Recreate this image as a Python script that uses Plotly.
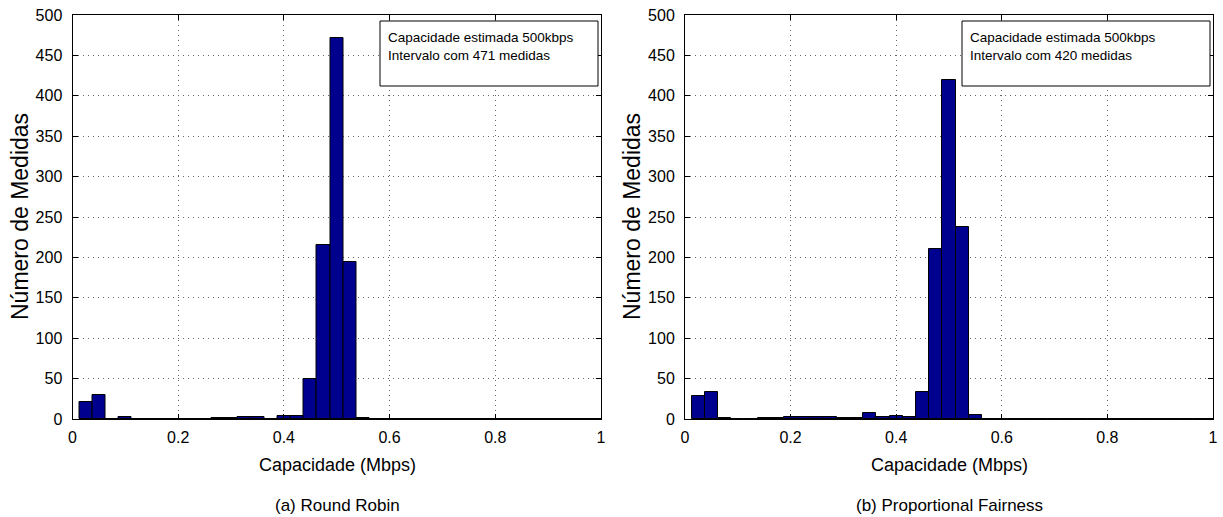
import plotly.graph_objects as go

# bin centers (Mbps), bin width 0.025
bins = [round(0.025 * i, 4) for i in range(1, 41)]

rr_counts = [21, 30, 0, 2, 0, 0, 0, 0, 0, 0,
             1, 1, 2, 3, 0, 4, 4, 50, 215, 471,
             194, 1, 0, 0, 0, 0, 0, 0, 0, 0,
             0, 0, 0, 0, 0, 0, 0, 0, 0, 0]
pf_counts = [29, 34, 1, 0, 0, 1, 1, 2, 2, 2,
             3, 1, 1, 8, 3, 4, 2, 34, 210, 420,
             238, 5, 0, 0, 0, 0, 0, 0, 0, 0,
             0, 0, 0, 0, 0, 0, 0, 0, 0, 0]

x_ticks = [0, 0.2, 0.4, 0.6, 0.8, 1]
x_tick_text = ["0", "0.2", "0.4", "0.6", "0.8", "1"]
y_ticks = list(range(0, 501, 50))

legend_rr = ["Capacidade estimada 500kbps", "Intervalo com 471 medidas"]
legend_pf = ["Capacidade estimada 500kbps", "Intervalo com 420 medidas"]
captions = ["(a) Round Robin", "(b) Proportional Fairness"]
x_title = "Capacidade (Mbps)"
y_title = "Número de Medidas"

W, H = 1223, 517
FONT = "Liberation Sans, Arial, Helvetica, sans-serif"
BAR_COLOR = "#00008F"

fig = go.Figure()

fig.add_trace(go.Bar(x=bins, y=rr_counts, width=0.025, marker=dict(color=BAR_COLOR, line=dict(color="black", width=1)),
                     xaxis="x", yaxis="y", showlegend=False))
fig.add_trace(go.Bar(x=bins, y=pf_counts, width=0.025, marker=dict(color=BAR_COLOR, line=dict(color="black", width=1)),
                     xaxis="x2", yaxis="y2", showlegend=False))

dom_y = [1 - 419 / H, 1 - 15 / H]
dom_x1 = [72.5 / W, 601 / W]
dom_x2 = [685 / W, 1213 / W]

GRID = dict(showgrid=True, gridcolor="#666", griddash="1px,4px", gridwidth=1)

def xaxis(domain, anchor):
    return dict(domain=domain, anchor=anchor, range=[0, 1], tickvals=x_ticks, ticktext=x_tick_text,
                showline=True, linecolor="black", linewidth=1, mirror="ticks", ticks="inside",
                ticklen=5, tickcolor="black", zeroline=False, automargin=False, ticklabelstandoff=4,
                tickfont=dict(size=16, color="black", family=FONT), **GRID)

def yaxis(domain, anchor):
    return dict(domain=domain, anchor=anchor, range=[0, 500], tickvals=y_ticks,
                showline=True, linecolor="black", linewidth=1, mirror="ticks", ticks="inside",
                ticklen=5, tickcolor="black", zeroline=False, automargin=False, ticklabelstandoff=6,
                tickfont=dict(size=16, color="black", family=FONT), **GRID)

fig.update_layout(
    width=W, height=H, margin=dict(l=0, r=0, t=0, b=0, autoexpand=False),
    paper_bgcolor="white", plot_bgcolor="white",
    font=dict(family=FONT, color="black"),
    bargap=0,
    xaxis=xaxis(dom_x1, "y"), yaxis=yaxis(dom_y, "x"),
    xaxis2=xaxis(dom_x2, "y2"), yaxis2=yaxis(dom_y, "x2"),
)

# legend-like text boxes
boxes = [(380, 598, legend_rr), (962, 1210, legend_pf)]
for x0, x1, lines in boxes:
    fig.add_shape(type="rect", xref="paper", yref="paper",
                  x0=x0 / W, x1=x1 / W, y0=1 - 86 / H, y1=1 - 21 / H,
                  line=dict(color="black", width=1), fillcolor="white", layer="above")
    fig.add_annotation(xref="paper", yref="paper", x=(x0 + 6) / W, y=1 - 28 / H,
                       xanchor="left", yanchor="top", align="left", showarrow=False,
                       text="<br>".join(lines), font=dict(size=13.5, color="black", family=FONT))

# axis titles and captions
for cx, axx, cap in [(337, 20, captions[0]), (949, 632, captions[1])]:
    fig.add_annotation(xref="paper", yref="paper", x=cx / W, y=1 - 465 / H,
                       xanchor="center", yanchor="middle", showarrow=False,
                       text=x_title, font=dict(size=18, color="black", family=FONT))
    fig.add_annotation(xref="paper", yref="paper", x=axx / W, y=1 - 217 / H,
                       xanchor="center", yanchor="middle", showarrow=False, textangle=-90,
                       text=y_title, font=dict(size=23, color="black", family=FONT))
    fig.add_annotation(xref="paper", yref="paper", x=cx / W, y=1 - 505 / H,
                       xanchor="center", yanchor="middle", showarrow=False,
                       text=cap, font=dict(size=17, color="black", family=FONT))

fig.write_html("out.html")
